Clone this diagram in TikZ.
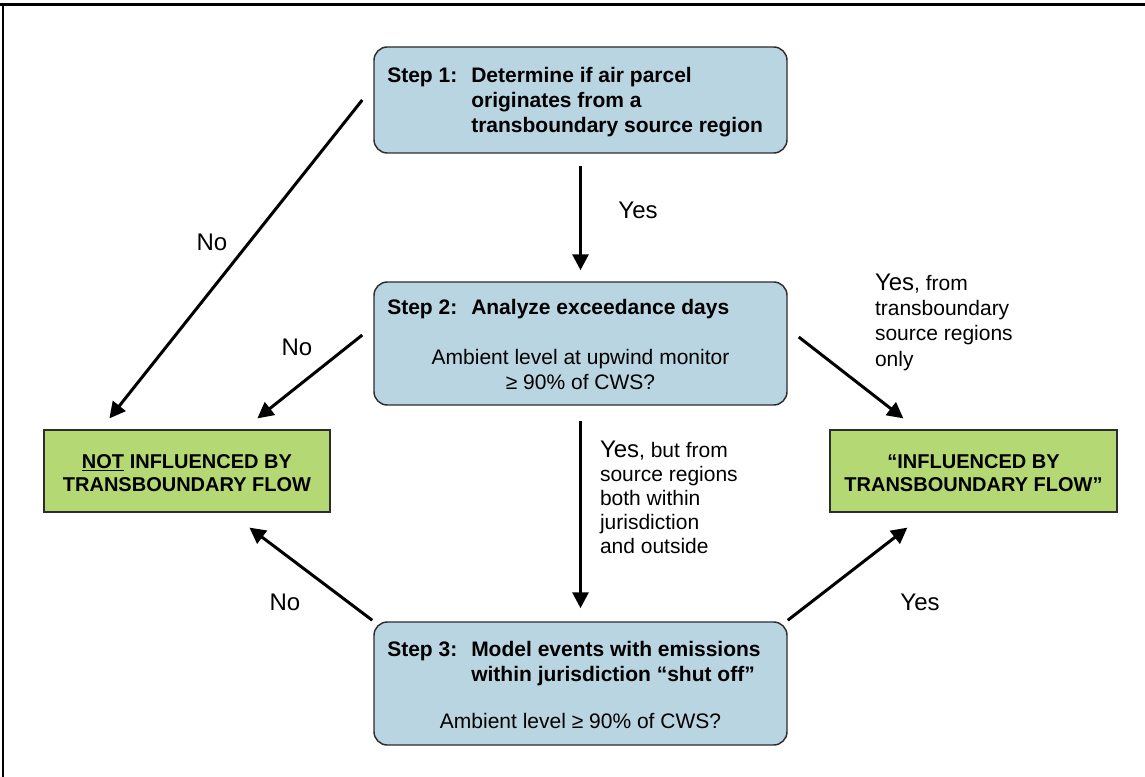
\documentclass[tikz,border=0pt]{standalone}
\usepackage{fontspec}
\setmainfont{Liberation Sans}
\usetikzlibrary{arrows.meta,calc}
\definecolor{stepblue}{RGB}{185,213,225}
\definecolor{resgreen}{RGB}{180,216,115}
\definecolor{edgegray}{RGB}{45,45,45}
\newcommand\mystepfont{\fontsize{15.75}{18.75}\selectfont\bfseries}
\newcommand\myresfont{\fontsize{15}{17.25}\selectfont\bfseries}
\newcommand\mybodyfont{\fontsize{15.75}{18.75}\selectfont}
\newcommand\mybigfont{\fontsize{18}{18.75}\selectfont}
\begin{document}
\begin{tikzpicture}[x=0.75pt,y=-0.75pt,
  stepbox/.style={draw=edgegray,line width=1.1pt,fill=stepblue,rounded corners=10pt,
    minimum width=309.75pt,minimum height=92.25pt,inner sep=0pt},
  resbox/.style={draw=edgegray,line width=0.9pt,fill=resgreen,
    minimum height=61.5pt,inner sep=0pt},
  flow/.style={line width=2.25pt,-{Triangle[length=12pt,width=12pt]}},
  txt/.style={inner sep=0pt,outer sep=0pt},
  lab/.style={inner sep=0pt,outer sep=0pt,font=\mybigfont}]
\useasboundingbox (0,0) rectangle (1145,777);
% frame
\draw[line width=2.25pt] (0,5) -- (1145,5);
\draw[line width=1.5pt] (3,5) -- (3,777);

% boxes
\node[stepbox,minimum height=79.5pt] (s1) at (580.5,100) {};
\node[stepbox] (s2) at (580.5,343.5) {};
\node[stepbox] (s3) at (580.5,683.5) {};
\node[resbox,minimum width=214.5pt] (ln) at (187,471) {};
\node[resbox,minimum width=215.25pt] (rn) at (973.5,471) {};

% box texts
\node[txt,anchor=base west] (t1) at ($(s1.north west)+(14,36)$)
  {\mystepfont\begin{tabular}[t]{@{}p{63pt}@{}l@{}}Step 1: & Determine if air parcel\\ & originates from a\\ & transboundary source region\end{tabular}};
\node[txt,anchor=base west] (t2) at ($(s2.north west)+(14,33.5)$)
  {\mystepfont\begin{tabular}[t]{@{}p{63pt}@{}l@{}}Step 2: & Analyze exceedance days\end{tabular}};
\node[txt,anchor=base] (t2b) at ($(s2.north)+(0,83.5)$)
  {\mybodyfont\begin{tabular}[t]{@{}c@{}}Ambient level at upwind monitor\\ ≥ 90\% of CWS?\end{tabular}};
\node[txt,anchor=base west] (t3) at ($(s3.north west)+(14,35.5)$)
  {\mystepfont\begin{tabular}[t]{@{}p{63pt}@{}l@{}}Step 3: & Model events with emissions\\ & within jurisdiction “shut off”\end{tabular}};
\node[txt,anchor=base] (t3b) at ($(s3.north)+(0,107.5)$)
  {\mybodyfont Ambient level ≥ 90\% of CWS?};
\node[txt,anchor=base] (tl) at ($(ln.north)+(0,39)$)
  {\myresfont\begin{tabular}[t]{@{}c@{}}\underline{NOT} INFLUENCED BY\\ TRANSBOUNDARY FLOW\end{tabular}};
\node[txt,anchor=base] (tr) at ($(rn.north)+(0,39)$)
  {\myresfont\begin{tabular}[t]{@{}c@{}}“INFLUENCED BY\\ TRANSBOUNDARY FLOW”\end{tabular}};

% connectors
\draw[flow] ($(s1.west)+(-11,0)$) -- ($(ln.north west)+(66,-11)$);
\draw[flow] ($(s2.west)+(-11,-8.5)$) -- ($(ln.north west)+(214,-11)$);
\draw[flow] ($(s2.east)+(11,-6.5)$) -- ($(rn.north west)+(74,-11)$);
\draw[flow] ($(s1.south)+(0,12)$) -- ($(s2.north)+(0,-11)$);
\draw[flow] ($(s2.south)+(0,15)$) -- ($(s3.north)+(0,-13)$);
\draw[flow] ($(s3.north west)+(-1,-1)$) -- ($(ln.south west)+(206,15)$);
\draw[flow] ($(s3.north east)+(0,-1)$) -- ($(rn.south west)+(78,15)$);

% labels
\node[lab] (l1) at (638,210) {Yes};
\node[lab] (l2) at (212,242) {No};
\node[lab] (l3) at (297,347) {No};
\node[lab] (l4) at (285,602) {No};
\node[lab] (l5) at (920,602) {Yes};
\node[txt,anchor=base west] (l6) at (875,291)
  {\mybodyfont\begin{tabular}[t]{@{}l@{}}{\mybigfont Yes}, from\\ transboundary\\ source regions\\ only\end{tabular}};
\node[txt,anchor=base west] (l7) at (600,457)
  {\fontsize{15.75}{18}\selectfont\begin{tabular}[t]{@{}l@{}}{\mybigfont Yes}, but from\\ source regions\\ both within\\ jurisdiction\\ and outside\end{tabular}};
\end{tikzpicture}
\end{document}
